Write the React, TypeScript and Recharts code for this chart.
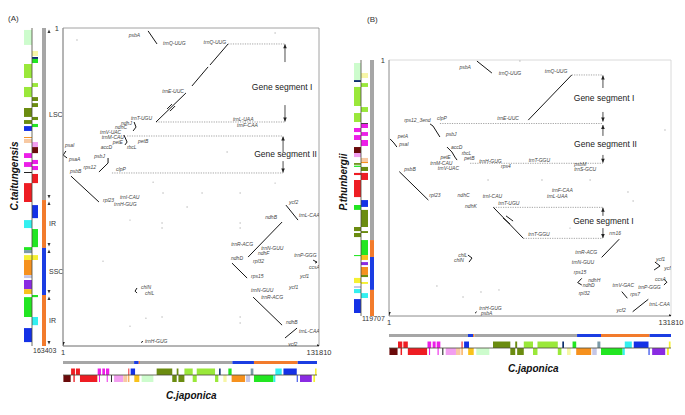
import { ComposedChart, XAxis, YAxis, ReferenceArea, ReferenceLine, Scatter } from 'recharts';

const PAGE_W = 685;
const PAGE_H = 415;

const japonicaLength = 131810;
const taitungensisLength = 163403;
const thunbergiiLength = 119707;

const regionColors: Record<string, string> = { LSC: '#a6a6a6', IR: '#f27b2c', SSC: '#1b3de2' };

const groupColors: Record<string, string> = {
  psa: '#6a0a0a',
  psb: '#ee1d23',
  pet: '#ec1ee8',
  atp: '#f29ef0',
  rbc: '#f7c9a3',
  rpo: '#f6911e',
  ycf: '#f8c21c',
  trn: '#cdfccd',
  rpl: '#6b8c10',
  rps: '#9ae83a',
  clp: '#0d2f6e',
  ndh: '#22e622',
  chl: '#7b9aa8',
  ccs: '#33f0f0',
  rrn: '#1431e6',
  mat: '#f5f032',
  inf: '#f7f6a6',
  acc: '#8a2be2',
  lhb: '#222222',
  cem: '#c5c6e6',
};

// ---- genome regions ----
const japonicaRegions = [
  { start: 1, end: 36900, region: 'LSC' },
  { start: 36900, end: 39300, region: 'SSC' },
  { start: 39300, end: 39900, region: 'IR' },
  { start: 39900, end: 87900, region: 'LSC' },
  { start: 87900, end: 99100, region: 'SSC' },
  { start: 99100, end: 121800, region: 'IR' },
  { start: 121800, end: 131810, region: 'SSC' },
];

const taitungensisRegions = [
  { start: 1, end: 88400, region: 'LSC' },
  { start: 88400, end: 113000, region: 'IR' },
  { start: 113000, end: 137200, region: 'SSC' },
  { start: 137200, end: 163403, region: 'IR' },
];

const thunbergiiRegions = [
  { start: 1, end: 84200, region: 'LSC' },
  { start: 84200, end: 92100, region: 'IR' },
  { start: 92100, end: 107500, region: 'SSC' },
  { start: 107500, end: 119707, region: 'IR' },
];

// ---- gene blocks (strand a = upper/left row, b = lower/right row) ----
const japonicaGenes = [
  { start: 4200, end: 6200, strand: 'a', group: 'psb' },
  { start: 6700, end: 8800, strand: 'a', group: 'psb' },
  { start: 18000, end: 19700, strand: 'a', group: 'pet' },
  { start: 20400, end: 21800, strand: 'a', group: 'pet' },
  { start: 22300, end: 24000, strand: 'a', group: 'pet' },
  { start: 33900, end: 34400, strand: 'a', group: 'psb' },
  { start: 35100, end: 37400, strand: 'a', group: 'rrn' },
  { start: 48600, end: 56700, strand: 'a', group: 'rpl' },
  { start: 59000, end: 59900, strand: 'a', group: 'rpl' },
  { start: 63000, end: 67300, strand: 'a', group: 'rps' },
  { start: 69400, end: 78900, strand: 'a', group: 'rps' },
  { start: 81000, end: 81800, strand: 'a', group: 'clp' },
  { start: 85800, end: 87500, strand: 'a', group: 'ndh' },
  { start: 97400, end: 98800, strand: 'a', group: 'chl' },
  { start: 110200, end: 113500, strand: 'a', group: 'ccs' },
  { start: 114400, end: 121300, strand: 'a', group: 'rrn' },
  { start: 130800, end: 131600, strand: 'a', group: 'mat' },
  { start: 200, end: 4000, strand: 'b', group: 'psa' },
  { start: 5400, end: 6100, strand: 'b', group: 'psb' },
  { start: 8800, end: 17800, strand: 'b', group: 'psb' },
  { start: 18700, end: 19200, strand: 'b', group: 'pet' },
  { start: 22700, end: 23200, strand: 'b', group: 'pet' },
  { start: 24900, end: 25400, strand: 'b', group: 'lhb' },
  { start: 26500, end: 31300, strand: 'b', group: 'atp' },
  { start: 31300, end: 33400, strand: 'b', group: 'rbc' },
  { start: 33900, end: 34400, strand: 'b', group: 'rpo' },
  { start: 37000, end: 39600, strand: 'b', group: 'ycf' },
  { start: 40800, end: 46900, strand: 'b', group: 'trn' },
  { start: 56700, end: 59000, strand: 'b', group: 'rpl' },
  { start: 59900, end: 63000, strand: 'b', group: 'rpl' },
  { start: 67300, end: 69400, strand: 'b', group: 'rps' },
  { start: 78900, end: 80600, strand: 'b', group: 'rps' },
  { start: 83200, end: 84900, strand: 'b', group: 'inf' },
  { start: 87500, end: 94500, strand: 'b', group: 'rpo' },
  { start: 95000, end: 97100, strand: 'b', group: 'cem' },
  { start: 99100, end: 109200, strand: 'b', group: 'ndh' },
  { start: 109200, end: 110200, strand: 'b', group: 'ccs' },
  { start: 121300, end: 121800, strand: 'b', group: 'rrn' },
  { start: 123000, end: 129100, strand: 'b', group: 'acc' },
  { start: 129900, end: 130800, strand: 'b', group: 'mat' },
];

const taitungensisGenes = [
  { start: 1000, end: 8700, strand: 'a', group: 'trn' },
  { start: 11800, end: 14400, strand: 'b', group: 'inf' },
  { start: 14900, end: 15900, strand: 'b', group: 'clp' },
  { start: 15900, end: 18000, strand: 'b', group: 'ndh' },
  { start: 18500, end: 25700, strand: 'a', group: 'rps' },
  { start: 28300, end: 30300, strand: 'b', group: 'rps' },
  { start: 30300, end: 35500, strand: 'a', group: 'rps' },
  { start: 35500, end: 37500, strand: 'b', group: 'rpl' },
  { start: 38600, end: 40600, strand: 'b', group: 'rpl' },
  { start: 41100, end: 45700, strand: 'a', group: 'rpl' },
  { start: 45700, end: 47300, strand: 'b', group: 'rpl' },
  { start: 47300, end: 49300, strand: 'a', group: 'rpl' },
  { start: 49300, end: 50900, strand: 'b', group: 'ndh' },
  { start: 50400, end: 52900, strand: 'a', group: 'rrn' },
  { start: 56000, end: 56500, strand: 'a', group: 'rpo' },
  { start: 57000, end: 59100, strand: 'a', group: 'rbc' },
  { start: 58600, end: 61200, strand: 'b', group: 'atp' },
  { start: 61200, end: 64300, strand: 'b', group: 'psa' },
  { start: 64300, end: 66800, strand: 'a', group: 'pet' },
  { start: 67800, end: 69900, strand: 'b', group: 'pet' },
  { start: 68900, end: 71400, strand: 'a', group: 'pet' },
  { start: 70900, end: 73000, strand: 'b', group: 'pet' },
  { start: 74000, end: 74500, strand: 'a', group: 'lhb' },
  { start: 75000, end: 79700, strand: 'b', group: 'psb' },
  { start: 79700, end: 89400, strand: 'a', group: 'psb' },
  { start: 91000, end: 97700, strand: 'b', group: 'rrn' },
  { start: 98700, end: 102800, strand: 'a', group: 'ccs' },
  { start: 103300, end: 112600, strand: 'b', group: 'ndh' },
  { start: 112600, end: 114100, strand: 'a', group: 'ndh' },
  { start: 114100, end: 115700, strand: 'a', group: 'chl' },
  { start: 116700, end: 119200, strand: 'a', group: 'mat' },
  { start: 116700, end: 119200, strand: 'b', group: 'mat' },
  { start: 119200, end: 127000, strand: 'a', group: 'rpo' },
  { start: 127000, end: 128500, strand: 'a', group: 'cem' },
  { start: 129500, end: 134200, strand: 'a', group: 'acc' },
  { start: 134200, end: 136700, strand: 'a', group: 'ycf' },
  { start: 137200, end: 138300, strand: 'b', group: 'ndh' },
  { start: 138300, end: 148500, strand: 'a', group: 'ndh' },
  { start: 148500, end: 152700, strand: 'b', group: 'ccs' },
  { start: 154200, end: 161400, strand: 'a', group: 'rrn' },
];

const thunbergiiGenes = [
  { start: 1400, end: 9400, strand: 'a', group: 'trn' },
  { start: 6100, end: 8400, strand: 'b', group: 'inf' },
  { start: 9400, end: 10300, strand: 'a', group: 'clp' },
  { start: 10800, end: 12600, strand: 'b', group: 'rps' },
  { start: 12600, end: 21500, strand: 'a', group: 'rps' },
  { start: 22000, end: 24300, strand: 'b', group: 'rps' },
  { start: 24800, end: 29000, strand: 'a', group: 'rps' },
  { start: 29500, end: 29900, strand: 'b', group: 'lhb' },
  { start: 29900, end: 31800, strand: 'b', group: 'pet' },
  { start: 31800, end: 33700, strand: 'a', group: 'pet' },
  { start: 33700, end: 35500, strand: 'b', group: 'pet' },
  { start: 35100, end: 37400, strand: 'a', group: 'pet' },
  { start: 37400, end: 40200, strand: 'b', group: 'pet' },
  { start: 40700, end: 43500, strand: 'a', group: 'psa' },
  { start: 43500, end: 45400, strand: 'a', group: 'atp' },
  { start: 45800, end: 47700, strand: 'b', group: 'rbc' },
  { start: 47700, end: 48200, strand: 'b', group: 'rpo' },
  { start: 48200, end: 49000, strand: 'a', group: 'rpl' },
  { start: 49400, end: 50000, strand: 'a', group: 'ndh' },
  { start: 50000, end: 51900, strand: 'b', group: 'rpl' },
  { start: 52800, end: 53800, strand: 'a', group: 'psb' },
  { start: 52800, end: 56100, strand: 'b', group: 'psb' },
  { start: 56100, end: 64100, strand: 'a', group: 'psb' },
  { start: 65500, end: 68700, strand: 'b', group: 'rrn' },
  { start: 67800, end: 70100, strand: 'a', group: 'ndh' },
  { start: 70100, end: 78100, strand: 'b', group: 'rpl' },
  { start: 78100, end: 80000, strand: 'a', group: 'rpl' },
  { start: 80000, end: 80900, strand: 'b', group: 'rpl' },
  { start: 80900, end: 82800, strand: 'a', group: 'rpl' },
  { start: 84200, end: 91200, strand: 'b', group: 'ndh' },
  { start: 91200, end: 91700, strand: 'a', group: 'ndh' },
  { start: 91200, end: 93500, strand: 'b', group: 'ycf' },
  { start: 94500, end: 95900, strand: 'b', group: 'acc' },
  { start: 96800, end: 100500, strand: 'b', group: 'rpo' },
  { start: 100500, end: 101500, strand: 'b', group: 'rpl' },
  { start: 101900, end: 104300, strand: 'a', group: 'mat' },
  { start: 103800, end: 104700, strand: 'b', group: 'mat' },
  { start: 105700, end: 106600, strand: 'a', group: 'cem' },
  { start: 107100, end: 109000, strand: 'a', group: 'ccs' },
  { start: 109000, end: 111300, strand: 'b', group: 'ccs' },
  { start: 111800, end: 118300, strand: 'a', group: 'rrn' },
];

// ---- dot plot (A): C.japonica (x) vs C.taitungensis (y) ----
const taitungensisLines = [
  { x1: 43800, y1: 1500, x2: 48400, y2: 8200 },
  { x1: 85000, y1: 8200, x2: 75700, y2: 19000 },
  { x1: 74700, y1: 20000, x2: 66400, y2: 29800 },
  { x1: 63300, y1: 33400, x2: 47900, y2: 48300 },
  { x1: 56100, y1: 39100, x2: 53600, y2: 41600 },
  { x1: 57700, y1: 40100, x2: 55100, y2: 42700 },
  { x1: 1500, y1: 63200, x2: 100, y2: 65300 },
  { x1: 100, y1: 65300, x2: 2100, y2: 66800 },
  { x1: 23200, y1: 66800, x2: 23200, y2: 69400 },
  { x1: 23200, y1: 69400, x2: 18500, y2: 74000 },
  { x1: 4100, y1: 76100, x2: 18500, y2: 89400 },
  { x1: 36600, y1: 48300, x2: 37600, y2: 50900 },
  { x1: 37600, y1: 50900, x2: 36100, y2: 52900 },
  { x1: 31400, y1: 55000, x2: 33000, y2: 58600 },
  { x1: 33000, y1: 58600, x2: 31900, y2: 60100 },
  { x1: 114800, y1: 91000, x2: 121000, y2: 98700 },
  { x1: 112800, y1: 99700, x2: 95300, y2: 117700 },
  { x1: 87000, y1: 120800, x2: 94800, y2: 128500 },
  { x1: 97900, y1: 138300, x2: 112800, y2: 152700 },
  { x1: 114300, y1: 159300, x2: 120500, y2: 154200 },
  { x1: 128800, y1: 119300, x2: 130800, y2: 120300 },
  { x1: 130800, y1: 120300, x2: 129800, y2: 120800 },
  { x1: 38100, y1: 133600, x2: 37100, y2: 135200 },
  { x1: 37100, y1: 135200, x2: 38100, y2: 136200 },
  { x1: 41200, y1: 161000, x2: 40200, y2: 161600 },
];

const taitungensisGuides = [
  { x1: 85000, x2: 114300, y: 8200 },
  { x1: 47900, x2: 114300, y: 48300 },
  { x1: 33000, x2: 113300, y: 55500 },
  { x1: 25200, x2: 113300, y: 74500 },
];

const taitungensisArrows = [
  { x: 114300, from: 17500, to: 8400 },
  { x: 114300, from: 39600, to: 48100 },
  { x: 113300, from: 63700, to: 55800 },
  { x: 113300, from: 68400, to: 74300 },
];

const taitungensisTitles = [
  { x: 112800, y: 30300, name: 'Gene segment I' },
  { x: 114600, y: 64800, name: 'Gene segment II' },
];

const taitungensisLabels = [
  { x: 40200, y: 3600, name: 'psbA', side: 'L' },
  { x: 51000, y: 7700, name: 'trnQ-UUG', side: 'R' },
  { x: 84500, y: 7200, name: 'trnQ-UUG', side: 'L' },
  { x: 62800, y: 32400, name: 'trnE-UUC', side: 'L' },
  { x: 46400, y: 46300, name: 'trnT-UGU', side: 'L' },
  { x: 87000, y: 46800, name: 'trnL-UAA', side: 'R' },
  { x: 89100, y: 49900, name: 'trnF-CAA', side: 'R' },
  { x: 36000, y: 48600, name: 'ndhJ', side: 'L' },
  { x: 33500, y: 51100, name: 'ndhC', side: 'L' },
  { x: 30500, y: 53600, name: 'trnV-UAC', side: 'L' },
  { x: 31900, y: 56100, name: 'trnM-CAU', side: 'L' },
  { x: 38100, y: 58100, name: 'petB', side: 'R' },
  { x: 31400, y: 58800, name: 'petE', side: 'L' },
  { x: 25800, y: 61400, name: 'accD', side: 'L' },
  { x: 32400, y: 61300, name: 'rbcL', side: 'R' },
  { x: 500, y: 60100, name: 'psaI', side: 'R' },
  { x: 2600, y: 67300, name: 'psaA', side: 'R' },
  { x: 22100, y: 65800, name: 'psbJ', side: 'L' },
  { x: 17500, y: 71400, name: 'rps12', side: 'L' },
  { x: 26800, y: 72500, name: 'clpP', side: 'R' },
  { x: 3100, y: 73500, name: 'psbB', side: 'R' },
  { x: 20100, y: 88400, name: 'rpl23', side: 'R' },
  { x: 28800, y: 86900, name: 'trnI-CAU', side: 'R' },
  { x: 25800, y: 90500, name: 'trnH-GUG', side: 'R' },
  { x: 115900, y: 89400, name: 'ycf2', side: 'R' },
  { x: 121000, y: 96100, name: 'trnL-CAA', side: 'R' },
  { x: 110700, y: 97100, name: 'ndhB', side: 'L' },
  { x: 98400, y: 111000, name: 'trnR-ACG', side: 'L' },
  { x: 101500, y: 113100, name: 'trnN-GUU', side: 'R' },
  { x: 99900, y: 115700, name: 'ndhF', side: 'R' },
  { x: 97300, y: 119800, name: 'rpl32', side: 'R' },
  { x: 93200, y: 118200, name: 'ndhD', side: 'L' },
  { x: 96300, y: 127500, name: 'rps15', side: 'R' },
  { x: 118500, y: 116700, name: 'trnP-GGG', side: 'R' },
  { x: 126200, y: 122800, name: 'ccsA', side: 'R' },
  { x: 121500, y: 127500, name: 'ycf1', side: 'R' },
  { x: 115900, y: 133100, name: 'ycf1', side: 'R' },
  { x: 39700, y: 133100, name: 'chlN', side: 'R' },
  { x: 41700, y: 136200, name: 'chlL', side: 'R' },
  { x: 96300, y: 134700, name: 'trnN-GUU', side: 'R' },
  { x: 101500, y: 138300, name: 'trnR-ACG', side: 'R' },
  { x: 114300, y: 151100, name: 'ndhB', side: 'R' },
  { x: 121000, y: 155700, name: 'trnL-CAA', side: 'R' },
  { x: 115400, y: 162400, name: 'ycf2', side: 'R' },
  { x: 41700, y: 160900, name: 'trnH-GUG', side: 'R' },
];

const taitungensisSpecks = [
  { x: 7200, y: 6200 }, { x: 109200, y: 2600 }, { x: 46400, y: 79200 },
  { x: 51500, y: 84800 }, { x: 71600, y: 84800 }, { x: 91200, y: 84800 },
  { x: 109200, y: 79700 }, { x: 84500, y: 63700 }, { x: 34500, y: 98700 },
  { x: 51000, y: 100200 }, { x: 51000, y: 102800 }, { x: 91200, y: 100200 },
  { x: 91200, y: 102800 }, { x: 20600, y: 119800 }, { x: 42700, y: 149100 },
  { x: 51000, y: 148500 }, { x: 91200, y: 148500 }, { x: 91200, y: 151600 },
  { x: 34500, y: 153200 }, { x: 63900, y: 92000 },
];

// ---- dot plot (B): C.japonica (x) vs P.thunbergii (y) ----
const thunbergiiLines = [
  { x1: 41100, y1: 500, x2: 48100, y2: 6100 },
  { x1: 85400, y1: 7000, x2: 65100, y2: 28100 },
  { x1: 19200, y1: 29900, x2: 20600, y2: 30900 },
  { x1: 20600, y1: 30900, x2: 23800, y2: 36000 },
  { x1: 500, y1: 36900, x2: 2300, y2: 38800 },
  { x1: 2300, y1: 38800, x2: 3700, y2: 40700 },
  { x1: 27100, y1: 40700, x2: 29400, y2: 43000 },
  { x1: 29400, y1: 43000, x2: 30800, y2: 45400 },
  { x1: 30800, y1: 45400, x2: 31800, y2: 46800 },
  { x1: 4800, y1: 52200, x2: 18400, y2: 65500 },
  { x1: 48800, y1: 68900, x2: 62800, y2: 83400 },
  { x1: 53300, y1: 73900, x2: 56600, y2: 76700 },
  { x1: 54700, y1: 72900, x2: 58000, y2: 75300 },
  { x1: 107600, y1: 83800, x2: 99400, y2: 92300 },
  { x1: 36900, y1: 91200, x2: 38800, y2: 92600 },
  { x1: 38800, y1: 92600, x2: 37400, y2: 94500 },
  { x1: 90100, y1: 102100, x2: 88200, y2: 104100 },
  { x1: 88200, y1: 104100, x2: 90100, y2: 105200 },
  { x1: 124300, y1: 94500, x2: 126700, y2: 96300 },
  { x1: 126700, y1: 96300, x2: 123900, y2: 98200 },
  { x1: 128500, y1: 102500, x2: 129900, y2: 103900 },
  { x1: 129900, y1: 103900, x2: 128500, y2: 105200 },
  { x1: 108800, y1: 108300, x2: 111400, y2: 111400 },
  { x1: 113900, y1: 117700, x2: 121200, y2: 111900 },
  { x1: 41000, y1: 117700, x2: 40200, y2: 118400 },
];

const thunbergiiGuides = [
  { x1: 85400, x2: 100000, y: 7000 },
  { x1: 23800, x2: 100000, y: 29700 },
  { x1: 37900, x2: 100000, y: 48300 },
  { x1: 48800, x2: 100000, y: 68900 },
  { x1: 62800, x2: 100000, y: 83400 },
];

const thunbergiiArrows = [
  { x: 100000, from: 13100, to: 7200 },
  { x: 100000, from: 24300, to: 28800 },
  { x: 100000, from: 35500, to: 30400 },
  { x: 100000, from: 44400, to: 48000 },
  { x: 100000, from: 72900, to: 69100 },
  { x: 100000, from: 78600, to: 83200 },
];

const thunbergiiTitles = [
  { x: 100500, y: 17800, name: 'Gene segment I' },
  { x: 101200, y: 39400, name: 'Gene segment II' },
  { x: 100200, y: 75300, name: 'Gene segment I' },
];

const thunbergiiLabels = [
  { x: 38700, y: 3100, name: 'psbA', side: 'L' },
  { x: 50800, y: 5900, name: 'trnQ-UUG', side: 'R' },
  { x: 83800, y: 5100, name: 'trnQ-UUG', side: 'L' },
  { x: 61200, y: 27300, name: 'trnE-UUC', side: 'L' },
  { x: 19900, y: 28100, name: 'rps12_3end', side: 'L' },
  { x: 22000, y: 27300, name: 'clpP', side: 'R' },
  { x: 26200, y: 34800, name: 'psbJ', side: 'R' },
  { x: 3600, y: 35500, name: 'petA', side: 'R' },
  { x: 4300, y: 39300, name: 'psaI', side: 'R' },
  { x: 28500, y: 40500, name: 'accD', side: 'R' },
  { x: 33500, y: 43600, name: 'rbcL', side: 'R' },
  { x: 29300, y: 45500, name: 'petE', side: 'L' },
  { x: 34700, y: 46000, name: 'petB', side: 'R' },
  { x: 30100, y: 48300, name: 'trnM-CAU', side: 'L' },
  { x: 33200, y: 50600, name: 'trnV-UAC', side: 'L' },
  { x: 41700, y: 47200, name: 'trnH-GUG', side: 'R' },
  { x: 51900, y: 49600, name: 'rps4', side: 'R' },
  { x: 64800, y: 46800, name: 'trnT-GGU', side: 'R' },
  { x: 86100, y: 48600, name: 'psbM', side: 'R' },
  { x: 86100, y: 51100, name: 'trnS-GCU', side: 'R' },
  { x: 6700, y: 51000, name: 'psbB', side: 'R' },
  { x: 18400, y: 63100, name: 'rpl23', side: 'R' },
  { x: 31600, y: 63100, name: 'ndhC', side: 'R' },
  { x: 43300, y: 63600, name: 'trnI-CAU', side: 'R' },
  { x: 75700, y: 60700, name: 'trnF-CAA', side: 'R' },
  { x: 73400, y: 63500, name: 'trnL-UAA', side: 'R' },
  { x: 50600, y: 66700, name: 'trnT-UGU', side: 'R' },
  { x: 35100, y: 68300, name: 'ndhK', side: 'R' },
  { x: 64600, y: 81500, name: 'trnT-GGU', side: 'R' },
  { x: 102500, y: 81000, name: 'rrn16', side: 'R' },
  { x: 97800, y: 89900, name: 'trnR-ACG', side: 'L' },
  { x: 96300, y: 94300, name: 'trnN-GUU', side: 'L' },
  { x: 37100, y: 91200, name: 'chlL', side: 'L' },
  { x: 35500, y: 93500, name: 'chlN', side: 'L' },
  { x: 124300, y: 93200, name: 'ycf1', side: 'R' },
  { x: 128200, y: 97400, name: 'ycf1', side: 'R' },
  { x: 123900, y: 102500, name: 'ccsA', side: 'R' },
  { x: 127500, y: 106300, name: 'trnP-GGG', side: 'L' },
  { x: 92700, y: 99000, name: 'rps15', side: 'L' },
  { x: 92700, y: 102900, name: 'ndhH', side: 'R' },
  { x: 90100, y: 105200, name: 'ndhD', side: 'R' },
  { x: 88200, y: 109100, name: 'rpl32', side: 'R' },
  { x: 115000, y: 105200, name: 'trnV-GAC', side: 'L' },
  { x: 112300, y: 109600, name: 'rps7', side: 'R' },
  { x: 121200, y: 114100, name: 'trnL-CAA', side: 'R' },
  { x: 111100, y: 116900, name: 'ycf2', side: 'L' },
  { x: 41700, y: 116100, name: 'trnH-GUG', side: 'R' },
  { x: 42500, y: 118400, name: 'psbA', side: 'R' },
];

const thunbergiiSpecks = [
  { x: 61200, y: 500 }, { x: 129000, y: 32700 }, { x: 46300, y: 56100 },
  { x: 71500, y: 56100 }, { x: 94000, y: 56100 }, { x: 111700, y: 61700 },
  { x: 22400, y: 105700 }, { x: 34600, y: 110800 }, { x: 43000, y: 108500 },
  { x: 51400, y: 107500 }, { x: 84600, y: 78600 }, { x: 114100, y: 65900 },
];

// ---- shapes ----
const GeneLabel = (p: any) => (
  <text
    x={p.cx + (p.payload.side === 'L' ? -1 : 1)}
    y={p.cy}
    fontSize={5}
    fontStyle="italic"
    fill="#444"
    textAnchor={p.payload.side === 'L' ? 'end' : 'start'}
    dominantBaseline="central"
  >
    {p.payload.name}
  </text>
);

const TitleLabel = (p: any) => (
  <text x={p.cx} y={p.cy} fontSize={8.5} fill="#222" textAnchor="middle" dominantBaseline="central">
    {p.payload.name}
  </text>
);

const Speck = (p: any) => <circle cx={p.cx} cy={p.cy} r={0.7} fill="#b5b5b5" />;

const Tip = (p: any) => {
  const { cx, cy, payload } = p;
  const s = 1.8;
  const l = 4;
  let d = `M${cx + 2},${cy} L${cx - 2},${cy - s} L${cx - 2},${cy + s} Z`;
  if (payload.dir === 'up') d = `M${cx},${cy} L${cx - s},${cy + l} L${cx + s},${cy + l} Z`;
  if (payload.dir === 'down') d = `M${cx},${cy} L${cx - s},${cy - l} L${cx + s},${cy - l} Z`;
  return <path d={d} fill="#222" />;
};

const BoundaryMark = (p: any) => {
  const { cx, cy, payload } = p;
  const s = 1.5;
  return (
    <g fill="#333">
      {payload.kind !== 'start' && <path d={`M${cx - s},${cy - 5} L${cx + s},${cy - 5} L${cx},${cy - 1.5} Z`} />}
      {payload.kind !== 'end' && <path d={`M${cx - s},${cy + 5} L${cx + s},${cy + 5} L${cx},${cy + 1.5} Z`} />}
    </g>
  );
};

interface Box { x0: number; x1: number; y0: number; y1: number }

function DotPlot({ box, yLength, lines, guides, arrows, titles, labels, specks, frame }: any) {
  const b: Box = box;
  const tips = [
    ...arrows.map((a: any) => ({ x: a.x, y: a.to, dir: a.to < a.from ? 'up' : 'down' })),
    { x: japonicaLength, y: yLength, dir: 'right' },
    { x: 1, y: yLength, dir: 'down' },
  ];
  return (
    <div style={{ position: 'absolute', left: 0, top: 0 }}>
      <ComposedChart
        width={PAGE_W}
        height={PAGE_H}
        margin={{ left: b.x0 - 20, top: b.y0, right: PAGE_W - b.x1, bottom: PAGE_H - b.y1 - 20 }}
      >
        <XAxis
          type="number"
          dataKey="x"
          domain={[1, japonicaLength]}
          allowDataOverflow
          ticks={[1, japonicaLength]}
          height={20}
          tickSize={4}
          tickMargin={0}
          tickLine={false}
          axisLine={{ stroke: '#8a8a8a', strokeWidth: 0.8 }}
          tick={{ fontSize: 7.5, fill: '#333' }}
        />
        <YAxis
          type="number"
          dataKey="y"
          domain={[1, yLength]}
          reversed
          allowDataOverflow
          ticks={[1]}
          width={20}
          tickSize={4}
          tickMargin={0}
          tickLine={false}
          axisLine={{ stroke: '#8a8a8a', strokeWidth: 0.8 }}
          tick={{ fontSize: 7.5, fill: '#333' }}
        />
        <ReferenceArea x1={1} x2={japonicaLength} y1={1} y2={yLength} fill="none" stroke={frame} strokeWidth={0.8} />
        {guides.map((g: any, i: number) => (
          <ReferenceLine
            key={'g' + i}
            segment={[{ x: g.x1, y: g.y }, { x: g.x2, y: g.y }]}
            stroke="#666"
            strokeWidth={0.6}
            strokeDasharray="1.2 1.2"
          />
        ))}
        {arrows.map((a: any, i: number) => (
          <ReferenceLine key={'a' + i} segment={[{ x: a.x, y: a.from }, { x: a.x, y: a.to }]} stroke="#222" strokeWidth={0.8} />
        ))}
        {lines.map((l: any, i: number) => (
          <ReferenceLine key={'l' + i} segment={[{ x: l.x1, y: l.y1 }, { x: l.x2, y: l.y2 }]} stroke="#151515" strokeWidth={1} />
        ))}
        <Scatter data={specks} shape={Speck} isAnimationActive={false} />
        <Scatter data={tips} shape={Tip} isAnimationActive={false} />
        <Scatter data={labels} shape={GeneLabel} isAnimationActive={false} />
        <Scatter data={titles} shape={TitleLabel} isAnimationActive={false} />
      </ComposedChart>
    </div>
  );
}

function HTrack({ x0, x1, bottom, regions, genes }: any) {
  return (
    <div style={{ position: 'absolute', left: 0, top: 0 }}>
      <ComposedChart
        width={PAGE_W}
        height={PAGE_H}
        margin={{ left: x0, right: PAGE_W - x1, top: bottom - 28, bottom: PAGE_H - bottom }}
      >
        <XAxis type="number" dataKey="x" domain={[1, japonicaLength]} hide allowDataOverflow />
        <YAxis type="number" dataKey="y" domain={[0, 28]} hide allowDataOverflow />
        {regions.map((r: any, i: number) => (
          <ReferenceArea key={'r' + i} x1={r.start} x2={r.end} y1={21} y2={24} fill={regionColors[r.region]} fillOpacity={1} stroke="none" />
        ))}
        {genes.map((g: any, i: number) => (
          <ReferenceArea
            key={'h' + i}
            x1={g.start}
            x2={g.end}
            y1={g.strand === 'a' ? 10 : 3}
            y2={g.strand === 'a' ? 16.5 : 10}
            fill={groupColors[g.group]}
            fillOpacity={1}
            stroke="none"
          />
        ))}
        <ReferenceLine y={10} stroke="#4a4a3a" strokeWidth={0.8} />
      </ComposedChart>
    </div>
  );
}

function VTrack({ x0, y0, y1, length, regions, genes, cols, showLabels }: any) {
  const marks = [
    { x: cols.mark, y: 1, kind: 'start' },
    ...regions.slice(1).map((r: any) => ({ x: cols.mark, y: r.start, kind: 'mid' })),
    { x: cols.mark, y: length, kind: 'end' },
  ];
  return (
    <div style={{ position: 'absolute', left: 0, top: 0 }}>
      <ComposedChart
        width={PAGE_W}
        height={PAGE_H}
        margin={{ left: x0, right: PAGE_W - x0 - cols.max, top: y0, bottom: PAGE_H - y1 }}
      >
        <XAxis type="number" dataKey="x" domain={[0, cols.max]} hide allowDataOverflow />
        <YAxis type="number" dataKey="y" domain={[1, length]} reversed hide allowDataOverflow />
        {regions.map((r: any, i: number) => (
          <ReferenceArea
            key={'r' + i}
            x1={cols.region[0]}
            x2={cols.region[1]}
            y1={r.start}
            y2={r.end}
            fill={regionColors[r.region]}
            fillOpacity={1}
            stroke="none"
            label={showLabels ? { value: r.region, position: 'right', offset: 3, fontSize: 7, fill: '#333' } : undefined}
          />
        ))}
        {genes.map((g: any, i: number) => (
          <ReferenceArea
            key={'v' + i}
            x1={g.strand === 'a' ? cols.a[0] : cols.b[0]}
            x2={g.strand === 'a' ? cols.a[1] : cols.b[1]}
            y1={g.start}
            y2={g.end}
            fill={groupColors[g.group]}
            fillOpacity={1}
            stroke="none"
          />
        ))}
        <ReferenceLine x={cols.a[1]} stroke="#4a4a3a" strokeWidth={0.8} />
        {showLabels && <Scatter data={marks} shape={BoundaryMark} isAnimationActive={false} />}
      </ComposedChart>
    </div>
  );
}

const txt = (left: number, top: number, s: string, style: any = {}) => (
  <div style={{ position: 'absolute', left, top, fontSize: 8, color: '#333', whiteSpace: 'nowrap', lineHeight: 1, ...style }}>
    {s}
  </div>
);

export default function App() {
  return (
    <div
      style={{
        position: 'absolute',
        left: 0,
        top: 0,
        width: PAGE_W,
        height: PAGE_H,
        background: '#fff',
        overflow: 'hidden',
        fontFamily: "'Liberation Sans', Arial, sans-serif",
      }}
    >
      <VTrack
        x0={24}
        y0={28}
        y1={346}
        length={taitungensisLength}
        regions={taitungensisRegions}
        genes={taitungensisGenes}
        cols={{ a: [0, 8], b: [8, 14], region: [18, 22], mark: 25, max: 28 }}
        showLabels
      />
      <HTrack x0={63} x1={317} bottom={385} regions={japonicaRegions} genes={japonicaGenes} />
      <DotPlot
        box={{ x0: 63, x1: 319, y0: 28, y1: 346 }}
        yLength={taitungensisLength}
        lines={taitungensisLines}
        guides={taitungensisGuides}
        arrows={taitungensisArrows}
        titles={taitungensisTitles}
        labels={taitungensisLabels}
        specks={taitungensisSpecks}
        frame="#8c8c8c"
      />

      <VTrack
        x0={354}
        y0={60}
        y1={316}
        length={thunbergiiLength}
        regions={thunbergiiRegions}
        genes={thunbergiiGenes}
        cols={{ a: [0, 7], b: [7, 14], region: [16, 20], mark: 22, max: 20 }}
        showLabels={false}
      />
      <HTrack x0={389} x1={671} bottom={358} regions={japonicaRegions} genes={japonicaGenes} />
      <DotPlot
        box={{ x0: 389, x1: 671, y0: 60, y1: 316 }}
        yLength={thunbergiiLength}
        lines={thunbergiiLines}
        guides={thunbergiiGuides}
        arrows={thunbergiiArrows}
        titles={thunbergiiTitles}
        labels={thunbergiiLabels}
        specks={thunbergiiSpecks}
        frame="#d0d0d0"
      />

      {txt(8, 15, '(A)')}
      {txt(367, 16, '(B)')}
      {txt(33, 347, '163403', { fontSize: 7 })}
      {txt(362, 315, '119707', { fontSize: 7 })}
      {txt(166, 391, 'C.japonica', { fontSize: 10, fontWeight: 'bold', fontStyle: 'italic', color: '#111' })}
      {txt(508, 364, 'C.japonica', { fontSize: 10, fontWeight: 'bold', fontStyle: 'italic', color: '#111' })}
      <div
        style={{
          position: 'absolute',
          left: 15,
          top: 176,
          transform: 'translate(-50%, -50%) rotate(-90deg)',
          fontSize: 10,
          fontWeight: 'bold',
          fontStyle: 'italic',
          color: '#111',
          whiteSpace: 'nowrap',
          lineHeight: 1,
        }}
      >
        C.taitungensis
      </div>
      <div
        style={{
          position: 'absolute',
          left: 344,
          top: 182,
          transform: 'translate(-50%, -50%) rotate(-90deg)',
          fontSize: 10,
          fontWeight: 'bold',
          fontStyle: 'italic',
          color: '#111',
          whiteSpace: 'nowrap',
          lineHeight: 1,
        }}
      >
        P.thunbergii
      </div>
    </div>
  );
}
